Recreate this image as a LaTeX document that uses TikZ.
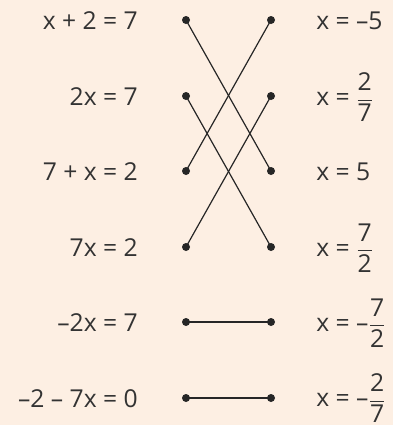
\documentclass[tikz,border=0pt]{standalone}
\usepackage{amsmath}
\usepackage{fontspec}
\setmainfont{Open Sans}
\definecolor{paper}{HTML}{FDEFE3}
\definecolor{ink}{HTML}{333333}
\newcommand{\sfrac}[2]{\genfrac{}{}{0.8pt}{0}{\text{#1}}{\text{#2}}}

\begin{document}
\begin{tikzpicture}[x=0.75pt, y=-0.75pt]
  % background and page size
  \fill[paper] (0,0) rectangle (393,425);
  \useasboundingbox (0,0) rectangle (393,425);
  \tikzset{
    eqtext/.style={anchor=east, inner sep=0pt, text=ink, font=\fontsize{18.5}{22}\selectfont},
    soltext/.style={anchor=west, inner sep=0pt, text=ink, font=\fontsize{18.5}{22}\selectfont},
    dot/.style={circle, fill=black!85, inner sep=0pt, minimum size=6pt}
  }
  % equations on the left
  \node[eqtext] (eq1) at (138,21) {x + 2 = 7};
  \node[eqtext] (eq2) at (138,97) {2x = 7};
  \node[eqtext] (eq3) at (138,172) {7 + x = 2};
  \node[eqtext] (eq4) at (138,248) {7x = 2};
  \node[eqtext] (eq5) at (138,323) {–2x = 7};
  \node[eqtext] (eq6) at (138,399) {–2 – 7x = 0};
  % solutions on the right
  \node[soltext] (sol1) at (316,21) {x = –5};
  \node[soltext] (sol2) at (316,97) {x = $\sfrac{2}{7}$};
  \node[soltext] (sol3) at (316,172) {x = 5};
  \node[soltext] (sol4) at (316,248) {x = $\sfrac{7}{2}$};
  \node[soltext] (sol5) at (316,323) {x = –$\sfrac{7}{2}$};
  \node[soltext] (sol6) at (316,398) {x = –$\sfrac{2}{7}$};
  % dots
  \node[dot] (l1) at (186,20) {};
  \node[dot] (l2) at (186,96) {};
  \node[dot] (l3) at (186,171) {};
  \node[dot] (l4) at (186,247) {};
  \node[dot] (l5) at (186,322) {};
  \node[dot] (l6) at (186,398) {};
  \node[dot] (r1) at (271,20) {};
  \node[dot] (r2) at (271,96) {};
  \node[dot] (r3) at (271,171) {};
  \node[dot] (r4) at (271,247) {};
  \node[dot] (r5) at (271,322) {};
  \node[dot] (r6) at (271,398) {};
  % matching lines
  \draw[black!85, line width=0.9pt] (l1.center) -- (r3.center);
  \draw[black!85, line width=0.9pt] (l2.center) -- (r4.center);
  \draw[black!85, line width=0.9pt] (l3.center) -- (r1.center);
  \draw[black!85, line width=0.9pt] (l4.center) -- (r2.center);
  \draw[black!85, line width=0.9pt] (l5.center) -- (r5.center);
  \draw[black!85, line width=0.9pt] (l6.center) -- (r6.center);
\end{tikzpicture}
\end{document}
